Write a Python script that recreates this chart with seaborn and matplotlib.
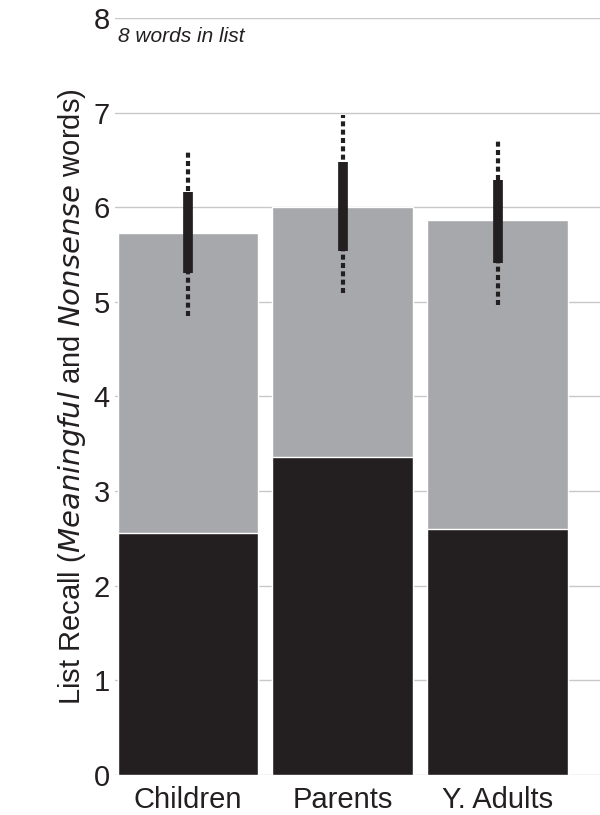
import numpy as np
import pandas as pd
import matplotlib
matplotlib.use("Agg")
import matplotlib.pyplot as plt
import seaborn as sns

groups = ["Children", "Parents", "Y. Adults"]
total_recall = [5.73, 6.00, 5.86]
meaningful_recall = [2.56, 3.36, 2.60]
ci_low = [5.30, 5.54, 5.41]
ci_high = [6.16, 6.48, 6.29]
range_low = [4.85, 5.09, 4.97]
range_high = [6.59, 6.97, 6.72]

sns.set_style("white")
plt.rcParams["font.family"] = ["Liberation Sans", "DejaVu Sans"]

df = pd.DataFrame({"group": groups, "total": total_recall, "meaningful": meaningful_recall})

fig, ax = plt.subplots(figsize=(6, 8.15), dpi=100)
fig.subplots_adjust(left=0.192, right=1.0, top=0.978, bottom=0.049)

ax.set_axisbelow(True)
ax.yaxis.grid(True, color="#c8c8c8", lw=1)
sns.barplot(data=df, x="group", y="total", color="#a7a8ab", width=0.91, saturation=1, ax=ax)
sns.barplot(data=df, x="group", y="meaningful", color="#231f20", width=0.91, saturation=1, ax=ax)

x = np.arange(len(groups))
ax.vlines(x, range_low, range_high, color="#231f20", lw=3, linestyles=(0, (1.2, 0.8)))
ax.vlines(x, ci_low, ci_high, color="#231f20", lw=7)

ax.set_ylim(0, 8)
ax.set_xlim(-0.47, 2.66)
ax.set_yticks(range(0, 9))
ax.set_xlabel("")
ax.set_ylabel("List Recall ($\\it{Meaningful}$ and $\\it{Nonsense}$ words)", fontsize=21, color="#231f20")
ax.tick_params(axis="both", labelsize=21, colors="#231f20", length=0, pad=4)
ax.tick_params(axis="x", pad=8)
for s in ax.spines.values():
    s.set_visible(False)
ax.text(-0.45, 7.9, "8 words in list", style="italic", fontsize=15, va="top", color="#231f20")

fig.savefig("out.png", dpi=100)
